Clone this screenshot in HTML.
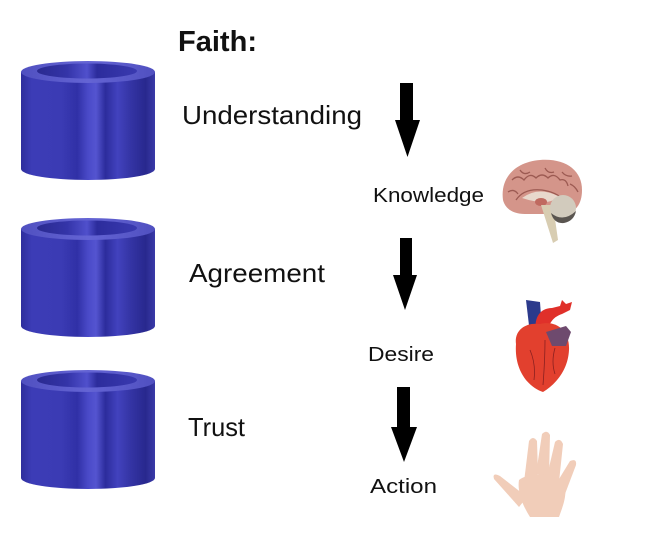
<!DOCTYPE html>
<html><head><meta charset="utf-8">
<style>
html,body{margin:0;padding:0;background:#fff;width:657px;height:549px;overflow:hidden}
svg{display:block}
text{font-family:"Liberation Sans",sans-serif;fill:#111}
</style></head>
<body>
<svg width="657" height="549" viewBox="0 0 657 549" xmlns="http://www.w3.org/2000/svg">
<defs>
<linearGradient id="body" x1="0" x2="1" y1="0" y2="0">
<stop offset="0" stop-color="#2e2e9c"/>
<stop offset="0.08" stop-color="#3c3cb6"/>
<stop offset="0.3" stop-color="#3b3bb4"/>
<stop offset="0.42" stop-color="#3030a6"/>
<stop offset="0.5" stop-color="#4a4ac8"/>
<stop offset="0.56" stop-color="#5454d0"/>
<stop offset="0.63" stop-color="#2c2c9c"/>
<stop offset="0.72" stop-color="#4242be"/>
<stop offset="0.82" stop-color="#3434a4"/>
<stop offset="0.93" stop-color="#28288e"/>
<stop offset="1" stop-color="#3a3aa8"/>
</linearGradient>
<linearGradient id="rim" x1="0" x2="1" y1="0" y2="0">
<stop offset="0" stop-color="#5050c0"/>
<stop offset="0.5" stop-color="#6464d4"/>
<stop offset="1" stop-color="#5050c0"/>
</linearGradient>
<linearGradient id="hole" x1="0" x2="1" y1="0" y2="0">
<stop offset="0" stop-color="#2a2a90"/>
<stop offset="0.3" stop-color="#3434a8"/>
<stop offset="0.5" stop-color="#5050cc"/>
<stop offset="0.6" stop-color="#2c2c9c"/>
<stop offset="1" stop-color="#3a3ab0"/>
</linearGradient>
<g id="cyl">
<path d="M21,0 L21,97 A67,11 0 0 0 155,97 L155,0 Z" fill="url(#body)"/>
<ellipse cx="88" cy="0" rx="67" ry="11" fill="url(#rim)"/>
<ellipse cx="87" cy="-1" rx="50" ry="7.5" fill="url(#hole)"/>
</g>
</defs>

<use href="#cyl" transform="translate(0,72)"/>
<use href="#cyl" transform="translate(0,229)"/>
<use href="#cyl" transform="translate(0,381)"/>

<text x="178" y="51" font-size="29" font-weight="bold" textLength="79" lengthAdjust="spacingAndGlyphs">Faith:</text>
<text x="182" y="124" font-size="26" textLength="180" lengthAdjust="spacingAndGlyphs">Understanding</text>
<text x="373" y="202" font-size="20" textLength="111" lengthAdjust="spacingAndGlyphs">Knowledge</text>
<text x="189" y="282" font-size="26" textLength="136" lengthAdjust="spacingAndGlyphs">Agreement</text>
<text x="368" y="361" font-size="20" textLength="66" lengthAdjust="spacingAndGlyphs">Desire</text>
<text x="188" y="436" font-size="26" textLength="57" lengthAdjust="spacingAndGlyphs">Trust</text>
<text x="370" y="493" font-size="20" textLength="67" lengthAdjust="spacingAndGlyphs">Action</text>

<polygon points="400,83 413,83 413,120 420,120 407.5,157 395,120 400,120" fill="#000"/>
<polygon points="400,238 412,238 412,275 417,275 405,310 393,275 400,275" fill="#000"/>
<polygon points="397,387 410,387 410,427 417,427 404,462 391,427 397,427" fill="#000"/>

<!-- brain -->
<g>
<path d="M503,200 C500,178 515,162 540,160 C565,158 582,170 582,190 C582,205 575,212 565,214 L525,214 C512,214 505,208 503,200 Z" fill="#d4958a"/>
<g fill="none" stroke="#9c5a52" stroke-width="1.3">
<path d="M512,180 q6,-6 12,0 q6,-8 12,-2 q6,-6 12,0 q6,-6 12,2 q6,-2 8,6"/>
<path d="M508,192 q6,-4 10,2 M520,170 q4,6 10,2 M545,168 q3,6 9,4 M562,172 q4,5 10,4 M570,184 q5,2 8,8"/>
<path d="M516,200 q8,-12 26,-10 q14,2 22,10"/>
</g>
<path d="M522,198 q16,-12 36,-2 q-4,6 -14,6 q-10,0 -22,-4 Z" fill="#e8d8cc"/>
<ellipse cx="541" cy="202" rx="6" ry="4" fill="#c06a60"/>
<path d="M541,205 L553,205 L558,240 L553,243 Z" fill="#d8cdb2"/>
<circle cx="563" cy="208" r="13" fill="#d2cbbd"/>
<path d="M551,213 q12,10 25,-2 q-2,10 -12,12 q-10,1 -13,-10 Z" fill="#5a5550"/>
</g>

<!-- heart -->
<g>
<path d="M526,300 L540,302 L542,330 L530,334 Z" fill="#2c3a8c"/>
<path d="M536,330 C534,318 540,308 552,308 L560,306 L562,300 L566,304 L572,302 L570,310 L562,314 C556,316 550,320 548,330 Z" fill="#e0302a"/>
<path d="M516,344 C514,330 526,322 540,324 C556,320 570,330 569,350 C568,370 556,384 543,392 C530,388 514,372 516,344 Z" fill="#e2402e"/>
<path d="M546,332 L566,326 L571,332 L566,346 L552,346 Z" fill="#6e4a6e"/>
<g fill="none" stroke="#8a2020" stroke-width="0.8">
<path d="M530,350 q6,14 4,30 M545,340 q0,20 -2,45 M555,348 q-4,14 0,26"/>
</g>
</g>

<!-- hand -->
<g fill="#f1cdb9">
<path d="M524,482 L529,441 q4,-6 8,0 L538,474 Z"/>
<path d="M536,474 L542,434 q5,-5 8,1 L549,476 Z"/>
<path d="M547,476 L555,442 q5,-5 8,2 L559,482 Z"/>
<path d="M556,484 L570,461 q7,-3 6,4 L565,494 Z"/>
<path d="M527,497 L500,476 q-8,-4 -6,3 L519,507 Z"/>
<path d="M519,480 C530,472 554,472 565,484 C567,498 562,508 559,517 L530,517 C523,506 517,492 519,480 Z"/>
</g>
</svg>
</body></html>
